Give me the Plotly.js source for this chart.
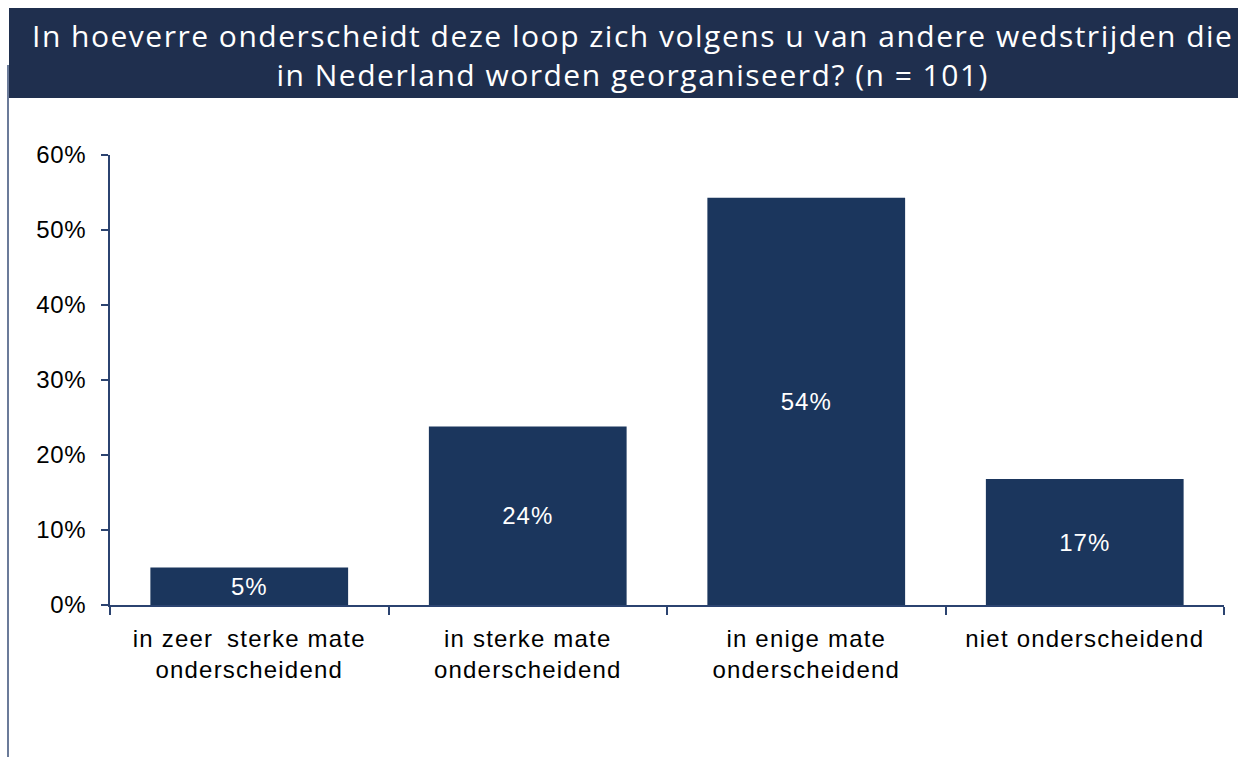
<!DOCTYPE html>
<html>
<head>
<meta charset="utf-8">
<script src="https://cdn.plot.ly/plotly-3.0.1.min.js"></script>
<style>
html,body{margin:0;padding:0;background:#fff;}
#chart{width:1238px;height:757px;}
#chart .xtick text { letter-spacing: 1.2px; }
#chart .ytick text { letter-spacing: 0.6px; }
#chart .bartext { letter-spacing: 1px; }
#chart .annotation-text { letter-spacing: 1.5px; }
</style>
</head>
<body>
<div id="chart"></div>
<script>
const categories = ["in zeer\u2009 sterke mate<br>onderscheidend", "in sterke mate<br>onderscheidend", "in enige mate<br>onderscheidend", "niet onderscheidend"];
const values = [5.0, 23.8, 54.3, 16.8];
const barLabels = ["5%", "24%", "54%", "17%"];
const titleText = "In hoeverre onderscheidt deze loop zich volgens u van andere wedstrijden die<br>in Nederland worden georganiseerd? (n = 101)";

const W = 1238, H = 757;
const L = 110, R = 14, T = 155, B = 152;
const pw = W - L - R, ph = H - T - B;
const px = x => (x - L) / pw;
const py = y => (H - B - y) / ph;

const trace = {
  type: 'bar',
  x: categories,
  y: values,
  text: barLabels,
  textposition: 'inside',
  insidetextanchor: 'middle',
  textfont: {family: 'Liberation Sans, Arial, sans-serif', size: 24, color: '#ffffff'},
  marker: {color: '#1B365D', line: {color: '#1B365D', width: 0}},
  hoverinfo: 'none',
  cliponaxis: false
};

const layout = {
  width: W, height: H,
  margin: {l: L, r: R, t: T, b: B},
  paper_bgcolor: '#ffffff',
  plot_bgcolor: '#ffffff',
  showlegend: false,
  bargap: 0.29,
  font: {family: 'Liberation Sans, Arial, sans-serif', color: '#000000'},
  xaxis: {
    type: 'category',
    tickson: 'boundaries',
    ticks: 'outside', ticklen: 8, tickwidth: 2, tickcolor: '#2B4370',
    showline: true, linecolor: '#2B4370', linewidth: 2,
    showgrid: false, zeroline: false,
    tickfont: {family: 'Liberation Sans, Arial, sans-serif', size: 24, color: '#000000'},
    ticklabelstandoff: 11,
    range: [-0.5, 3.5]
  },
  yaxis: {
    range: [0, 60], dtick: 10, ticksuffix: '%',
    ticks: 'outside', ticklen: 7, tickwidth: 2, tickcolor: '#2B4370',
    showline: true, linecolor: '#2B4370', linewidth: 2,
    showgrid: false, zeroline: false,
    tickfont: {family: 'Liberation Sans, Arial, sans-serif', size: 24, color: '#000000'},
    ticklabelstandoff: 10
  },
  shapes: [
    {type: 'rect', xref: 'paper', yref: 'paper', x0: px(9), x1: px(1238), y0: py(98), y1: py(8), fillcolor: '#1F2F4E', line: {width: 0}, layer: 'below'},
    {type: 'line', xref: 'paper', yref: 'paper', x0: px(8), x1: px(8), y0: py(65), y1: py(757), line: {color: '#6B7B99', width: 2}}
  ],
  annotations: [
    {xref: 'paper', yref: 'paper', x: px(632), y: py(55), xanchor: 'center', yanchor: 'middle', showarrow: false,
     text: titleText, align: 'center',
     font: {family: 'Open Sans, sans-serif', size: 30, color: '#ffffff'}}
  ]
};

Plotly.newPlot('chart', [trace], layout, {displayModeBar: false, staticPlot: true});
</script>
</body>
</html>
